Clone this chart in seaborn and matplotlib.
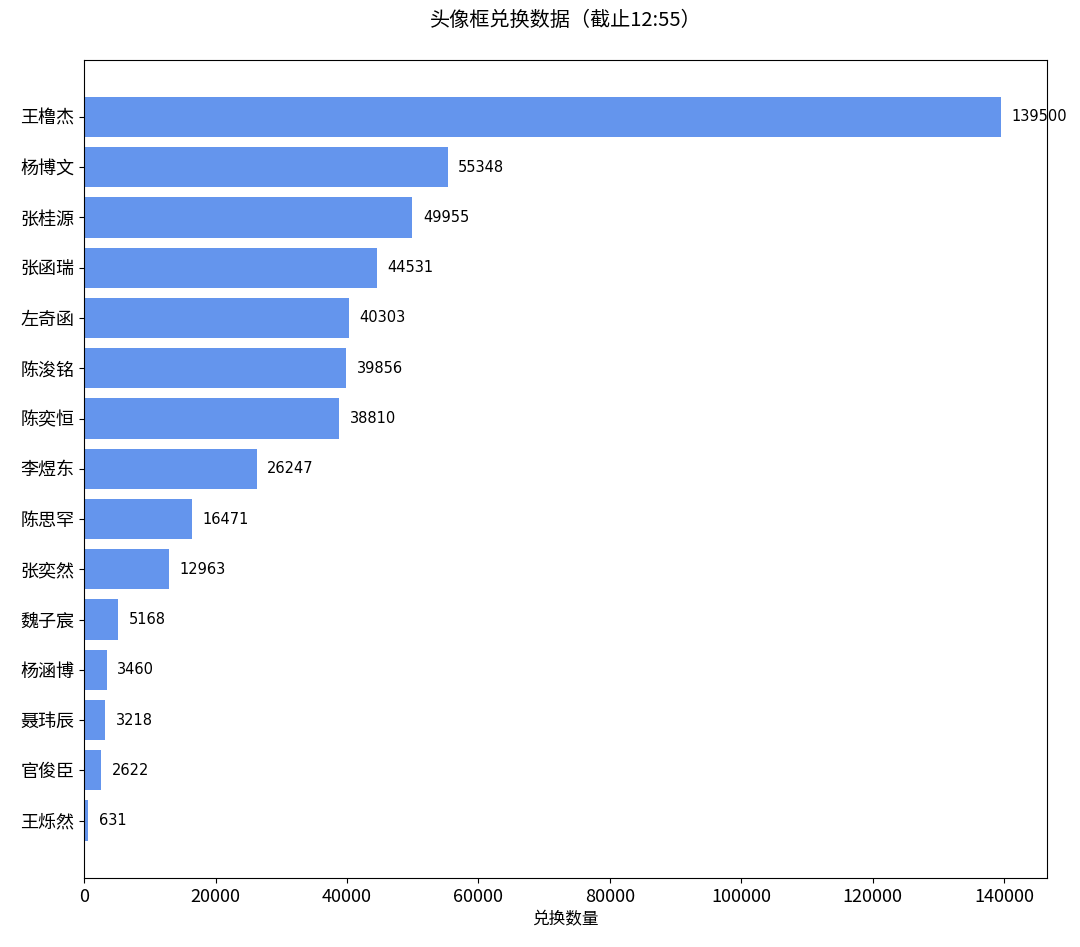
import pandas as pd
import seaborn as sns
from matplotlib import pyplot as plt

names = ["王橹杰", "杨博文", "张桂源", "张函瑞", "左奇函", "陈浚铭", "陈奕恒", "李煜东",
         "陈思罕", "张奕然", "魏子宸", "杨涵博", "聂玮辰", "官俊臣", "王烁然"]
counts = [139500, 55348, 49955, 44531, 40303, 39856, 38810, 26247,
          16471, 12963, 5168, 3460, 3218, 2622, 631]
x_ticks = [0, 20000, 40000, 60000, 80000, 100000, 120000, 140000]

sns.set_style("ticks")
plt.rcParams['font.family'] = ['Noto Sans CJK SC', 'DejaVu Sans']
plt.rcParams['text.color'] = 'black'
plt.rcParams['axes.labelcolor'] = 'black'
plt.rcParams['xtick.color'] = 'black'
plt.rcParams['ytick.color'] = 'black'

table = pd.DataFrame({"name": names, "count": counts})

fig = plt.figure(figsize=(10.8, 9.47), dpi=100)
ax = fig.add_axes([0.078, 0.073, 0.891, 0.864])

sns.barplot(data=table, x="count", y="name", orient="h", color="#6495ED",
            saturation=1, width=0.8, linewidth=0, ax=ax)

for patch, value in zip(ax.patches, counts):
    ax.annotate(str(value), (patch.get_width(), patch.get_y() + patch.get_height() / 2),
                xytext=(7.5, 0), textcoords="offset points", va="center", ha="left",
                fontsize=10.5, color="black", family="DejaVu Sans")

# matplotlib-style margins around the bars
n = len(names)
pad = (n - 1 + 0.8) * 0.05
ax.set_ylim(n - 1 + 0.4 + pad, -0.4 - pad)

ax.set_xticks(x_ticks)
ax.set_xticklabels([str(t) for t in x_ticks], fontsize=13)
ax.tick_params(axis="y", labelsize=13)
ax.set_xlabel("兑换数量", fontsize=12)
ax.set_ylabel("")
ax.set_title("头像框兑换数据（截止12:55）", fontsize=14.5, pad=24)
for side in ["top", "right", "left", "bottom"]:
    ax.spines[side].set_visible(True)
    ax.spines[side].set_color("black")

fig.savefig("out.png", dpi=100)
plt.close("all")
